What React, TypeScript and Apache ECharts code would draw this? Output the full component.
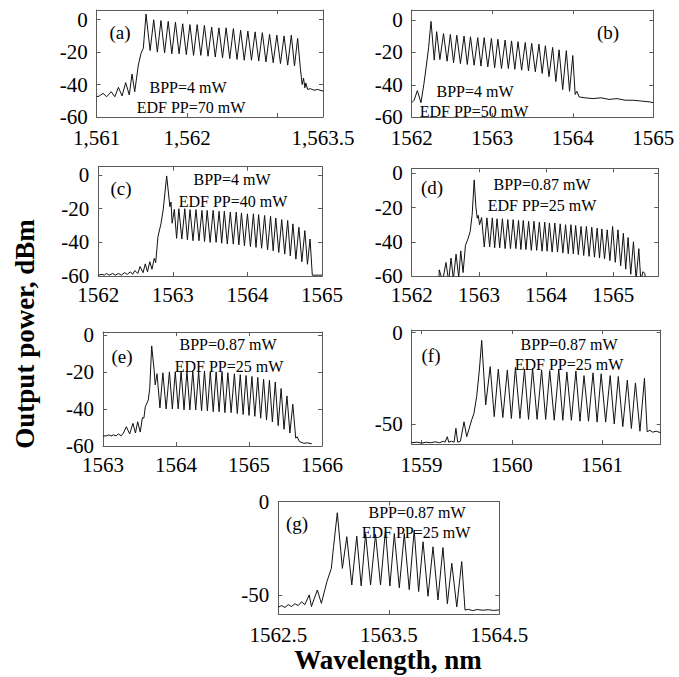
import React, { useEffect, useRef } from "react";
import * as echarts from "echarts";

// ---------- DATA (wavelength nm, power dBm) ----------
const leadA = [[1561.00,-47.5],[1561.03,-47.0],[1561.07,-45.4],[1561.11,-47.5],[1561.16,-44.4],[1561.20,-47.5],[1561.24,-41.7],[1561.28,-47.0],[1561.32,-38.8],[1561.36,-46.4],[1561.39,-33.5],[1561.42,-44.4],[1561.46,-27.9],[1561.49,-20.7],[1561.515,-17.6],[1561.545,3.5],[1561.59,-19.0]];
const peaksA = [[1561.63,0.0],[1561.71,-0.5],[1561.79,-1.0],[1561.87,-1.5],[1561.95,-2.5],[1562.03,-3.0],[1562.11,-3.0],[1562.19,-3.5],[1562.27,-4.5],[1562.35,-5.0],[1562.43,-5.0],[1562.51,-5.5],[1562.59,-6.5],[1562.67,-7.0],[1562.75,-7.5],[1562.83,-8.0],[1562.91,-9.0],[1562.99,-9.5],[1563.07,-10.0],[1563.15,-9.5],[1563.22,-11.5]];
const troughsA = [[1561.67,-20.0],[1561.75,-20.5],[1561.83,-21.0],[1561.91,-21.0],[1561.99,-21.5],[1562.07,-22.0],[1562.15,-22.0],[1562.23,-22.5],[1562.31,-23.0],[1562.39,-23.5],[1562.47,-24.0],[1562.55,-24.5],[1562.63,-25.0],[1562.71,-25.0],[1562.79,-25.5],[1562.87,-26.0],[1562.95,-26.5],[1563.03,-27.0],[1563.11,-28.0],[1563.185,-28.5]];
const tailA = [[1563.25,-30.0],[1563.27,-40.0],[1563.285,-36.0],[1563.30,-42.0],[1563.31,-39.0],[1563.33,-43.0],[1563.36,-42.5],[1563.40,-43.5],[1563.44,-43.0],[1563.50,-44.0]];

const leadB = [[1562.00,-51.0],[1562.03,-49.5],[1562.07,-43.6],[1562.115,-51.0],[1562.15,-40.0],[1562.18,-29.0],[1562.21,-17.0],[1562.24,-1.0],[1562.28,-24.8]];
const peaksB = [[1562.31,-7.3],[1562.395,-8.5],[1562.48,-9.0],[1562.56,-9.5],[1562.65,-10.0],[1562.73,-10.5],[1562.82,-11.0],[1562.90,-11.0],[1562.99,-11.5],[1563.07,-12.0],[1563.16,-12.5],[1563.24,-13.0],[1563.32,-13.5],[1563.41,-14.0],[1563.49,-14.5],[1563.58,-15.0],[1563.66,-16.0],[1563.75,-17.0],[1563.83,-18.5],[1563.92,-19.0],[1564.00,-22.0]];
const troughsB = [[1562.35,-24.5],[1562.44,-25.5],[1562.52,-26.5],[1562.605,-27.0],[1562.69,-27.5],[1562.775,-28.0],[1562.86,-28.5],[1562.945,-29.0],[1563.03,-29.5],[1563.115,-30.0],[1563.20,-30.0],[1563.28,-30.5],[1563.365,-31.0],[1563.45,-31.5],[1563.535,-32.0],[1563.62,-33.0],[1563.705,-35.0],[1563.79,-38.0],[1563.875,-43.0],[1563.96,-44.0]];
const tailB = [[1564.03,-46.0],[1564.05,-44.0],[1564.08,-47.5],[1564.15,-48.0],[1564.25,-48.5],[1564.35,-48.0],[1564.45,-49.0],[1564.55,-48.5],[1564.65,-49.5],[1564.75,-49.5],[1564.85,-50.0],[1564.95,-50.5],[1565.00,-51.0]];

const leadC = [[1562.00,-59.5],[1562.05,-59.0],[1562.08,-59.5],[1562.11,-58.5],[1562.15,-59.5],[1562.19,-58.5],[1562.23,-59.5],[1562.27,-58.5],[1562.31,-59.5],[1562.35,-58.0],[1562.39,-59.0],[1562.43,-57.5],[1562.46,-59.0],[1562.49,-56.8],[1562.53,-58.5],[1562.56,-54.4],[1562.60,-58.0],[1562.63,-52.8],[1562.66,-57.5],[1562.69,-51.5],[1562.72,-56.0],[1562.75,-49.5],[1562.77,-52.0],[1562.80,-36.6],[1562.84,-29.0],[1562.87,-20.7],[1562.917,-0.5],[1562.96,-18.8],[1562.975,-16.0],[1562.99,-28.6],[1563.02,-20.4],[1563.05,-37.6]];
const peaksC = [[1563.08,-20.0],[1563.16,-20.0],[1563.23,-20.5],[1563.31,-20.5],[1563.39,-21.0],[1563.46,-21.0],[1563.54,-21.0],[1563.62,-21.5],[1563.69,-21.5],[1563.77,-22.0],[1563.85,-22.0],[1563.92,-22.5],[1564.00,-23.0],[1564.08,-23.0],[1564.15,-23.5],[1564.23,-24.0],[1564.31,-24.5],[1564.38,-25.5],[1564.46,-26.5],[1564.54,-27.0],[1564.61,-29.0],[1564.69,-31.0],[1564.77,-33.0],[1564.84,-38.0]];
const troughsC = [[1563.12,-38.0],[1563.195,-38.5],[1563.27,-39.0],[1563.35,-39.0],[1563.425,-39.5],[1563.50,-40.0],[1563.58,-40.0],[1563.655,-40.5],[1563.73,-41.0],[1563.81,-41.0],[1563.885,-41.5],[1563.96,-42.0],[1564.04,-42.5],[1564.115,-43.0],[1564.19,-43.5],[1564.27,-44.5],[1564.345,-45.0],[1564.42,-46.0],[1564.50,-47.0],[1564.575,-48.0],[1564.65,-50.0],[1564.73,-51.5],[1564.805,-53.0]];
const tailC = [[1564.87,-59.5],[1564.95,-59.5],[1565.00,-59.5]];

const leadD = [[1562.405,-63.0],[1562.41,-56.4],[1562.46,-63.0],[1562.51,-52.1],[1562.55,-63.0],[1562.585,-49.5],[1562.62,-62.0],[1562.66,-47.2],[1562.70,-61.0],[1562.73,-45.3],[1562.765,-58.0],[1562.80,-42.0],[1562.84,-38.0],[1562.87,-34.0],[1562.90,-24.0],[1562.93,-3.8],[1562.955,-19.4],[1562.975,-26.2],[1562.99,-24.5],[1563.01,-30.0]];
const peaksD = [[1563.04,-25.8],[1563.12,-26.0],[1563.20,-26.0],[1563.27,-26.5],[1563.35,-26.5],[1563.43,-27.0],[1563.51,-27.0],[1563.59,-27.5],[1563.66,-27.5],[1563.74,-28.0],[1563.82,-28.0],[1563.90,-28.5],[1563.98,-28.5],[1564.05,-29.0],[1564.13,-29.0],[1564.21,-29.5],[1564.29,-30.0],[1564.37,-30.0],[1564.44,-30.5],[1564.52,-31.0],[1564.60,-31.0],[1564.68,-31.5],[1564.76,-32.0],[1564.83,-32.5],[1564.91,-33.0],[1564.99,-31.0],[1565.07,-33.0],[1565.15,-35.0],[1565.22,-37.5],[1565.30,-40.0],[1565.38,-44.0]];
const troughsD = [[1563.08,-43.0],[1563.16,-43.0],[1563.235,-43.5],[1563.31,-43.5],[1563.39,-44.0],[1563.47,-44.0],[1563.55,-44.0],[1563.625,-44.5],[1563.70,-44.5],[1563.78,-45.0],[1563.86,-45.0],[1563.94,-45.5],[1564.015,-45.5],[1564.09,-46.0],[1564.17,-46.0],[1564.25,-46.5],[1564.33,-47.0],[1564.405,-47.0],[1564.48,-47.5],[1564.56,-48.0],[1564.64,-48.5],[1564.72,-49.0],[1564.795,-49.5],[1564.87,-50.0],[1564.95,-51.0],[1565.03,-52.0],[1565.11,-54.0],[1565.185,-56.0],[1565.26,-59.0],[1565.34,-62.0]];
const tailD = [[1565.41,-63.0],[1565.44,-57.5],[1565.47,-58.5],[1565.48,-63.0]];

const leadE = [[1563.00,-54.6],[1563.05,-54.5],[1563.08,-54.0],[1563.11,-54.6],[1563.14,-54.0],[1563.18,-54.5],[1563.21,-53.5],[1563.25,-54.5],[1563.28,-53.0],[1563.32,-49.6],[1563.365,-53.5],[1563.41,-47.8],[1563.445,-53.0],[1563.475,-46.9],[1563.51,-52.5],[1563.54,-44.6],[1563.56,-45.0],[1563.58,-38.8],[1563.62,-35.2],[1563.64,-28.9],[1563.667,-6.0],[1563.70,-19.0],[1563.715,-27.0]];
const peaksE = [[1563.74,-21.0],[1563.82,-20.5],[1563.91,-20.0],[1563.99,-20.0],[1564.07,-19.5],[1564.15,-19.5],[1564.23,-19.5],[1564.31,-19.5],[1564.39,-19.5],[1564.47,-20.0],[1564.55,-20.0],[1564.63,-20.0],[1564.71,-20.5],[1564.80,-21.0],[1564.88,-21.5],[1564.96,-22.0],[1565.04,-22.5],[1565.12,-23.0],[1565.20,-24.0],[1565.28,-24.5],[1565.36,-25.5],[1565.44,-29.0],[1565.52,-33.0],[1565.60,-37.5]];
const troughsE = [[1563.78,-39.5],[1563.865,-40.0],[1563.95,-40.0],[1564.03,-40.0],[1564.11,-40.5],[1564.19,-40.5],[1564.27,-40.5],[1564.35,-41.0],[1564.43,-41.0],[1564.51,-41.5],[1564.59,-41.5],[1564.67,-42.0],[1564.755,-42.0],[1564.84,-42.5],[1564.92,-43.0],[1565.00,-43.5],[1565.08,-44.0],[1565.16,-45.0],[1565.24,-46.0],[1565.32,-47.0],[1565.40,-49.0],[1565.48,-51.0],[1565.56,-53.0]];
const tailE = [[1565.64,-55.8],[1565.66,-55.0],[1565.69,-57.6],[1565.75,-58.5],[1565.80,-58.3],[1565.86,-58.8]];

const leadF = [[1558.89,-60.3],[1558.95,-60.0],[1559.00,-60.5],[1559.05,-60.0],[1559.10,-60.3],[1559.15,-59.8],[1559.20,-60.3],[1559.24,-59.5],[1559.26,-60.0],[1559.285,-57.0],[1559.30,-60.0],[1559.33,-59.5],[1559.36,-60.0],[1559.38,-52.4],[1559.40,-60.0],[1559.43,-59.5],[1559.47,-48.8],[1559.50,-57.0],[1559.555,-47.8],[1559.58,-44.2],[1559.61,-35.0],[1559.64,-20.4],[1559.666,-4.2],[1559.71,-39.6]];
const peaksF = [[1559.76,-18.6],[1559.85,-20.0],[1559.95,-20.4],[1560.04,-19.0],[1560.14,-20.0],[1560.23,-19.5],[1560.33,-20.4],[1560.42,-20.8],[1560.52,-20.0],[1560.61,-21.5],[1560.71,-21.0],[1560.80,-23.5],[1560.90,-22.0],[1560.99,-22.5],[1561.09,-23.5],[1561.18,-24.0],[1561.28,-26.0],[1561.37,-27.5],[1561.47,-25.0]];
const troughsF = [[1559.805,-46.0],[1559.90,-46.5],[1559.995,-47.0],[1560.09,-47.0],[1560.185,-47.5],[1560.28,-47.5],[1560.375,-47.5],[1560.47,-48.0],[1560.565,-48.0],[1560.66,-48.0],[1560.755,-48.5],[1560.85,-48.5],[1560.945,-49.0],[1561.04,-49.0],[1561.135,-50.0],[1561.23,-51.5],[1561.325,-52.5],[1561.42,-54.0]];
const tailF = [[1561.50,-54.3],[1561.53,-53.5],[1561.56,-54.5],[1561.60,-54.0],[1561.65,-54.8]];

const leadG = [[1562.50,-56.4],[1562.53,-55.5],[1562.56,-56.5],[1562.59,-55.0],[1562.62,-56.0],[1562.65,-54.5],[1562.68,-55.5],[1562.71,-53.5],[1562.74,-55.0],[1562.78,-49.8],[1562.80,-56.0],[1562.853,-47.2],[1562.89,-54.3],[1562.94,-42.7],[1562.98,-35.6],[1563.00,-24.0],[1563.034,-5.9],[1563.08,-35.6]];
const peaksG = [[1563.12,-18.7],[1563.21,-18.4],[1563.29,-17.0],[1563.38,-17.4],[1563.47,-15.1],[1563.55,-17.0],[1563.64,-17.0],[1563.73,-15.1],[1563.81,-21.4],[1563.90,-24.1],[1563.99,-24.5],[1564.07,-32.9],[1564.16,-32.0]];
const troughsG = [[1563.165,-44.5],[1563.25,-45.0],[1563.335,-44.5],[1563.425,-44.5],[1563.51,-45.0],[1563.595,-46.0],[1563.685,-47.0],[1563.77,-48.0],[1563.855,-50.5],[1563.945,-52.5],[1564.03,-54.5],[1564.115,-56.2]];
const tailG = [[1564.19,-57.9],[1564.22,-57.5],[1564.26,-58.2],[1564.30,-57.6],[1564.35,-58.0],[1564.40,-57.7],[1564.45,-58.1],[1564.50,-57.8]];

// axis ranges and tick labels
const xLabelsA = [1561, 1562, 1563.5];
const xTicksA = [1562, 1563];
const xLabelsBC = [1562, 1563, 1564, 1565];
const xLabelsD = [1562, 1563, 1564, 1565];
const xLabelsE = [1563, 1564, 1565, 1566];
const xLabelsF = [1559, 1560, 1561];
const xLabelsG = [1562.5, 1563.5, 1564.5];
const yLabels60 = [0, -20, -40, -60];
const yLabels50 = [0, -50];

function build(lead: number[][], peaks: number[][], troughs: number[][], tail: number[][]) {
  const out: number[][] = [...lead];
  for (let i = 0; i < peaks.length; i++) {
    out.push(peaks[i]);
    if (i < troughs.length) out.push(troughs[i]);
  }
  return out.concat(tail);
}

const panels = [
  { data: build(leadA, peaksA, troughsA, tailA), grid: { left: 96.7, top: 10, width: 226.3, height: 107 }, xMin: 1561, xMax: 1563.5, xLabels: xLabelsA, xTicks: xTicksA, comma: true, xMargin: 10, yMin: -60, yMax: 6, yLabels: yLabels60,
    tag: "(a)", tagPos: [120, 32], t1: "BPP=4 mW", t1Pos: [188, 87], t2: "EDF PP=70 mW", t2Pos: [191, 107] },
  { data: build(leadB, peaksB, troughsB, tailB), grid: { left: 411.7, top: 10, width: 241.6, height: 107.3 }, xMin: 1562, xMax: 1565, xLabels: xLabelsBC, xTicks: xLabelsBC, comma: false, xMargin: 10, yMin: -60, yMax: 6, yLabels: yLabels60,
    tag: "(b)", tagPos: [608, 32], t1: "BPP=4 mW", t1Pos: [475, 91], t2: "EDF PP=50 mW", t2Pos: [474, 111] },
  { data: build(leadC, peaksC, troughsC, tailC), grid: { left: 98.3, top: 166.7, width: 223.7, height: 109.3 }, xMin: 1562, xMax: 1565, xLabels: xLabelsBC, xTicks: xLabelsBC, comma: false, xMargin: 8, yMin: -60, yMax: 5, yLabels: yLabels60,
    tag: "(c)", tagPos: [121, 188], t1: "BPP=4 mW", t1Pos: [232, 179], t2: "EDF PP=40 mW", t2Pos: [233, 201] },
  { data: build(leadD, peaksD, troughsD, tailD), grid: { left: 411.7, top: 168.3, width: 246.6, height: 107.7 }, xMin: 1562, xMax: 1565.67, xLabels: xLabelsD, xTicks: xLabelsD, comma: false, xMargin: 8, yMin: -60, yMax: 3, yLabels: yLabels60,
    tag: "(d)", tagPos: [432, 187], t1: "BPP=0.87 mW", t1Pos: [542, 184], t2: "EDF PP=25 mW", t2Pos: [542, 205] },
  { data: build(leadE, peaksE, troughsE, tailE), grid: { left: 103, top: 332, width: 219, height: 114 }, xMin: 1563, xMax: 1566, xLabels: xLabelsE, xTicks: xLabelsE, comma: false, xMargin: 8, yMin: -60, yMax: 1.5, yLabels: yLabels60,
    tag: "(e)", tagPos: [122, 356], t1: "BPP=0.87 mW", t1Pos: [228, 344], t2: "EDF PP=25 mW", t2Pos: [229, 366] },
  { data: build(leadF, peaksF, troughsF, tailF), grid: { left: 411.7, top: 330, width: 249, height: 114 }, xMin: 1558.89, xMax: 1561.65, xLabels: xLabelsF, xTicks: xLabelsF, comma: false, xMargin: 10, yMin: -61, yMax: 1.5, yLabels: yLabels50,
    tag: "(f)", tagPos: [431, 355], t1: "BPP=0.87 mW", t1Pos: [569, 344], t2: "EDF PP=25 mW", t2Pos: [569, 364] },
  { data: build(leadG, peaksG, troughsG, tailG), grid: { left: 278.3, top: 501.7, width: 221, height: 112.3 }, xMin: 1562.5, xMax: 1564.5, xLabels: xLabelsG, xTicks: [1563.5], comma: false, xMargin: 10, yMin: -60, yMax: 0, yLabels: yLabels50,
    tag: "(g)", tagPos: [297, 523], t1: "BPP=0.87 mW", t1Pos: [417, 512], t2: "EDF PP=25 mW", t2Pos: [416, 532] },
];

const FONT = '"Liberation Serif", "Times New Roman", serif';
const BORDER = "#5a5a5a";

function txt(text: string, pos: number[], size: number, bold = false, rotation = 0) {
  return {
    type: "text",
    x: pos[0],
    y: pos[1],
    rotation,
    silent: true,
    style: {
      text,
      font: `${bold ? "bold " : ""}${size}px ${FONT}`,
      fill: "#000",
      textAlign: "center",
      textVerticalAlign: "middle",
      align: "center",
      verticalAlign: "middle",
    },
  };
}

export default function App() {
  const ref = useRef<HTMLDivElement>(null);
  useEffect(() => {
    if (!ref.current) return;
    const chart = echarts.init(ref.current, undefined, { renderer: "svg" });
    const grids: any[] = [];
    const xAxes: any[] = [];
    const yAxes: any[] = [];
    const series: any[] = [];
    const graphics: any[] = [];
    const line = { show: true, onZero: false, lineStyle: { color: BORDER, width: 1 } };
    panels.forEach((p, i) => {
      grids.push({ ...p.grid });
      const fmtX = (v: number) => {
        const s = String(v);
        return p.comma ? s[0] + "," + s.slice(1) : s;
      };
      xAxes.push({
        type: "value", gridIndex: i, position: "bottom", min: p.xMin, max: p.xMax,
        axisLine: line,
        axisTick: { show: true, inside: true, length: 4, customValues: p.xTicks, lineStyle: { color: BORDER } },
        axisLabel: { show: true, customValues: p.xLabels, formatter: fmtX, fontFamily: FONT, fontSize: 21, color: "#000", margin: p.xMargin },
        splitLine: { show: false },
      });
      xAxes.push({
        type: "value", gridIndex: i, position: "top", min: p.xMin, max: p.xMax,
        axisLine: line,
        axisTick: { show: true, inside: true, length: 4, customValues: p.xTicks, lineStyle: { color: BORDER } },
        axisLabel: { show: false },
        splitLine: { show: false },
      });
      yAxes.push({
        type: "value", gridIndex: i, position: "left", min: p.yMin, max: p.yMax,
        axisLine: line,
        axisTick: { show: true, inside: true, length: 4, customValues: p.yLabels, lineStyle: { color: BORDER } },
        axisLabel: { show: true, customValues: p.yLabels, formatter: (v: number) => String(v), fontFamily: FONT, fontSize: 21, color: "#000", margin: 9 },
        splitLine: { show: false },
      });
      yAxes.push({
        type: "value", gridIndex: i, position: "right", min: p.yMin, max: p.yMax,
        axisLine: line,
        axisTick: { show: true, inside: true, length: 4, customValues: p.yLabels, lineStyle: { color: BORDER } },
        axisLabel: { show: false },
        splitLine: { show: false },
      });
      series.push({
        type: "line", xAxisIndex: 2 * i, yAxisIndex: 2 * i, data: p.data,
        symbol: "none", showSymbol: false, clip: true, silent: true,
        lineStyle: { color: "#111", width: 1 },
      });
      graphics.push(txt(p.tag, p.tagPos, 19));
      graphics.push(txt(p.t1, p.t1Pos, 16));
      graphics.push(txt(p.t2, p.t2Pos, 16));
    });
    graphics.push(txt("Output power, dBm", [25, 334], 27, true, Math.PI / 2));
    graphics.push(txt("Wavelength, nm", [388, 660], 27, true));
    chart.setOption({
      animation: false,
      backgroundColor: "#fff",
      grid: grids,
      xAxis: xAxes,
      yAxis: yAxes,
      series,
      graphic: graphics,
    });
    return () => chart.dispose();
  }, []);
  return <div ref={ref} style={{ position: "fixed", left: 0, top: 0, width: 679, height: 677, background: "#fff" }} />;
}
